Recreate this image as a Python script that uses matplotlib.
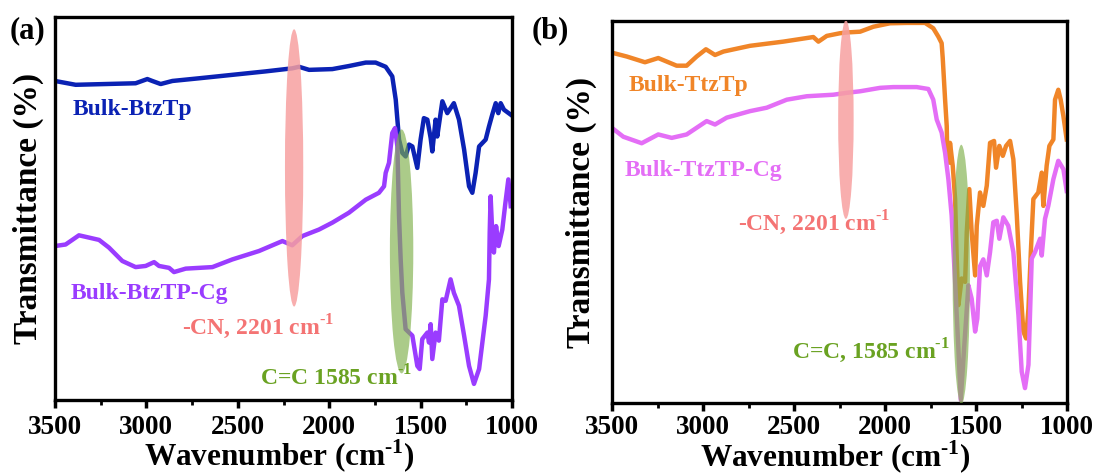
import numpy as np
import matplotlib
matplotlib.use("Agg")
import matplotlib.pyplot as plt
from matplotlib.patches import Ellipse
from matplotlib.ticker import MultipleLocator

plt.rcParams['font.family'] = ['Liberation Serif', 'DejaVu Serif']
plt.rcParams['font.weight'] = 'bold'
plt.rcParams['mathtext.fontset'] = 'custom'
plt.rcParams['mathtext.rm'] = 'Liberation Serif:bold'
plt.rcParams['mathtext.bf'] = 'Liberation Serif:bold'

# FTIR spectra, panel (a)
btz_wn = [3500, 3387, 3059, 2995, 2968, 2922, 2858, 2712, 2530, 2348, 2202, 2165, 2110,
          1983, 1892, 1800, 1746, 1691, 1655, 1636, 1627, 1618, 1600, 1582, 1563, 1545,
          1518, 1500, 1482, 1463, 1445, 1436, 1418, 1409, 1381, 1354, 1318, 1290, 1262,
          1235, 1217, 1199, 1180, 1144, 1126, 1108, 1089, 1075, 1062, 1044, 1007]
btz_t = [83.3, 82.3, 82.7, 83.8, 83.3, 82.5, 83.3, 84.0, 84.9, 85.8, 86.6, 87.0, 86.2,
         86.4, 87.2, 88.1, 88.1, 87.0, 84.5, 78.4, 73.2, 68.0, 64.5, 63.6, 66.7, 66.2,
         60.6, 68.0, 73.6, 73.2, 68.4, 64.9, 73.2, 68.8, 78.0, 74.9, 77.5, 73.2, 65.4,
         55.8, 54.1, 59.3, 66.2, 68.0, 71.4, 74.5, 77.5, 74.9, 77.5, 75.8, 74.5]

btzcg_wn = [3500, 3442, 3369, 3332, 3259, 3205, 3132, 3059, 3004, 2958, 2931, 2876, 2849,
            2785, 2639, 2530, 2384, 2256, 2202, 2147, 2056, 1983, 1892, 1800, 1728, 1700,
            1691, 1673, 1655, 1640, 1627, 1618, 1609, 1600, 1582, 1545, 1518, 1505, 1491,
            1463, 1454, 1445, 1436, 1418, 1400, 1381, 1363, 1336, 1318, 1290, 1262, 1235,
            1208, 1180, 1144, 1126, 1122, 1117, 1108, 1099, 1087, 1073, 1053, 1036, 1020, 1007]
btzcg_t = [40.2, 40.6, 43.0, 42.6, 41.8, 39.8, 36.3, 34.7, 35.0, 36.0, 35.0, 34.5, 33.4,
           34.3, 34.7, 36.7, 38.9, 41.5, 40.4, 42.8, 44.5, 46.3, 48.9, 52.3, 54.1, 55.8,
           59.3, 61.9, 69.7, 71.0, 66.2, 48.0, 36.7, 28.0, 18.5, 16.8, 8.9, 8.1, 15.9,
           17.6, 15.0, 19.8, 10.7, 17.6, 15.5, 26.3, 25.9, 31.5, 28.0, 24.6, 16.8, 8.9,
           4.2, 8.1, 22.0, 31.5, 43.7, 53.2, 43.7, 38.5, 45.4, 40.2, 44.5, 51.5, 57.6, 50.6]

# FTIR spectra, panel (b)
ttz_wn = [3500, 3419, 3319, 3246, 3145, 3090, 3035, 2984, 2934, 2888, 2742, 2559, 2394,
          2366, 2320, 2247, 2210, 2137, 2064, 1973, 1881, 1780, 1735, 1707, 1689, 1683,
          1670, 1661, 1658, 1647, 1643, 1628, 1615, 1606, 1597, 1579, 1560, 1551, 1537,
          1524, 1505, 1496, 1478, 1460, 1441, 1423, 1401, 1390, 1372, 1353, 1335, 1313,
          1295, 1276, 1258, 1240, 1225, 1212, 1199, 1185, 1158, 1139, 1130, 1112, 1097,
          1075, 1066, 1048, 1035, 1020, 1002]
ttz_t = [91.7, 90.7, 89.2, 90.3, 88.3, 88.3, 90.7, 92.6, 91.1, 92.0, 93.5, 94.6, 95.8,
         94.6, 96.1, 96.8, 97.0, 97.2, 98.5, 99.4, 99.5, 99.5, 98.1, 95.9, 94.2, 90.3,
         79.4, 72.5, 64.7, 62.9, 68.1, 62.1, 53.4, 37.8, 25.6, 32.6, 31.7, 44.7, 56.0,
         44.7, 33.4, 46.4, 55.1, 51.6, 56.9, 68.1, 68.6, 61.6, 67.3, 64.7, 67.3, 68.6,
         63.8, 49.1, 31.7, 18.7, 16.9, 24.7, 39.5, 53.4, 55.1, 60.3, 51.6, 62.1, 67.3,
         69.0, 79.4, 82.0, 79.4, 75.1, 69.0]

ttzcg_wn = [3500, 3438, 3337, 3246, 3172, 3090, 2980, 2934, 2870, 2742, 2650, 2540, 2430,
            2284, 2210, 2137, 2027, 1954, 1826, 1762, 1735, 1716, 1689, 1670, 1652, 1634,
            1615, 1597, 1584, 1566, 1542, 1524, 1505, 1493, 1478, 1460, 1441, 1423, 1405,
            1386, 1372, 1350, 1323, 1295, 1267, 1249, 1231, 1212, 1194, 1176, 1148, 1139,
            1121, 1103, 1075, 1048, 1020, 1002]
ttzcg_t = [72.0, 69.7, 68.0, 70.3, 69.4, 70.3, 73.8, 72.9, 74.7, 76.4, 77.3, 79.4, 80.3,
           80.7, 81.2, 81.6, 82.5, 82.7, 82.7, 82.2, 79.4, 74.2, 70.8, 65.5, 58.6, 49.1,
           31.7, 14.3, 0.8, 14.0, 30.8, 27.3, 18.7, 22.1, 35.8, 37.6, 33.4, 39.5, 47.3,
           47.7, 43.0, 48.6, 46.4, 39.5, 23.0, 8.2, 3.9, 10.0, 37.8, 39.5, 43.0, 38.6,
           48.2, 51.6, 58.6, 63.4, 61.2, 55.5]

fig = plt.figure(figsize=(10.98, 4.75), dpi=100)
ax1 = fig.add_axes([0.0501, 0.1579, 0.4162, 0.8063])
ax2 = fig.add_axes([0.5574, 0.1516, 0.4144, 0.8042])

ax1.plot(btz_wn, btz_t, color='#0b22b4', lw=3.2, zorder=2)
ax1.plot(btzcg_wn, btzcg_t, color='#9a3cff', lw=3.2, zorder=2)
ax2.plot(ttz_wn, ttz_t, color='#f08528', lw=3.2, zorder=2)
ax2.plot(ttzcg_wn, ttzcg_t, color='#e46ef6', lw=3.2, zorder=2)

# highlighted bands
ax1.add_patch(Ellipse((2192, 60.6), 100, 72.4, color='#f7a0a0', alpha=0.85, lw=0, zorder=3))
ax1.add_patch(Ellipse((1604, 38.8), 128, 63.7, color='#7fb04a', alpha=0.65, lw=0, zorder=3))
ax2.add_patch(Ellipse((2215, 74.2), 85, 52.0, color='#f7a0a0', alpha=0.85, lw=0, zorder=3))
ax2.add_patch(Ellipse((1581, 33.6), 95, 68.0, color='#7fb04a', alpha=0.65, lw=0, zorder=3))

sup = r'$^{\text{-1}}$'
ax1.text(3402, 74.4, 'Bulk-BtzTp', color='#0b22b4', fontsize=17, va='baseline')
ax1.text(3412, 26.5, 'Bulk-BtzTP-Cg', color='#9a3cff', fontsize=17, va='baseline')
ax1.text(2805, 17.0, '-CN, 2201 cm' + sup, color='#f47474', fontsize=17, va='baseline')
ax1.text(2379, 3.9, 'C=C 1585 cm' + sup, color='#6aa222', fontsize=17, va='baseline')

ax2.text(3410, 81.6, 'Bulk-TtzTp', color='#f08528', fontsize=17, va='baseline')
ax2.text(3429, 59.5, 'Bulk-TtzTP-Cg', color='#e46ef6', fontsize=17, va='baseline')
ax2.text(2806, 45.1, '-CN, 2201 cm' + sup, color='#f47474', fontsize=17, va='baseline')
ax2.text(2513, 11.7, 'C=C, 1585 cm' + sup, color='#6aa222', fontsize=17, va='baseline')

for ax, ylx, xly, tpad in [(ax1, -0.024, -0.196, 5), (ax2, -0.033, -0.191, 3)]:
    ax.set_xlim(3500, 1000)
    ax.set_ylim(0, 100)
    ax.set_yticks([])
    ax.xaxis.set_major_locator(MultipleLocator(500))
    ax.xaxis.set_minor_locator(MultipleLocator(250))
    ax.tick_params(axis='x', which='major', direction='out', length=6, width=2.5,
                   labelsize=19.5, pad=tpad)
    ax.tick_params(axis='x', which='minor', direction='out', length=3.5, width=2)
    for s in ax.spines.values():
        s.set_linewidth(2.4)
    for lab in ax.get_xticklabels():
        lab.set_fontweight('bold')
    ax.set_ylabel('Transmittance (%)', fontsize=24, fontweight='bold')
    ax.yaxis.set_label_coords(ylx, 0.5)
    ax.set_xlabel('Wavenumber (cm' + sup + ')', fontsize=22.5, fontweight='bold', va='bottom')
    ax.xaxis.set_label_coords(0.49, xly)

fig.text(0.009, 0.965, '(a)', fontsize=22, fontweight='bold', va='top')
fig.text(0.484, 0.965, '(b)', fontsize=22, fontweight='bold', va='top')

plt.savefig('out.png', dpi=100)
